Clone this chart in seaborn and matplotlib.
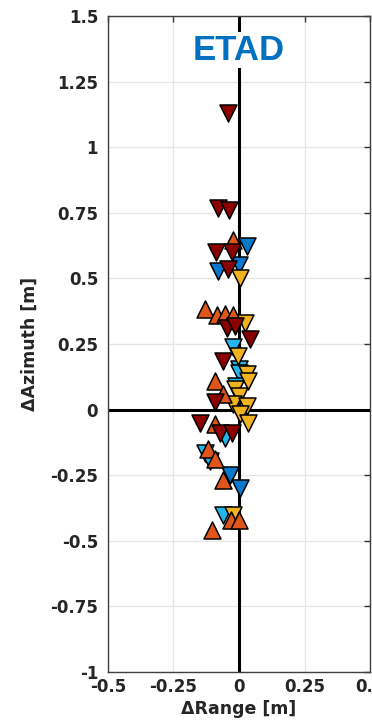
import numpy as np
import pandas as pd
import seaborn as sns
import matplotlib.pyplot as plt

# offsets, grouped by colour
dred_rng = [-0.042, -0.08, -0.04, -0.088, -0.027, -0.042, -0.046, -0.015, 0.042, -0.061, -0.092, -0.15, -0.073, -0.027]
dred_az = [1.13, 0.77, 0.76, 0.60, 0.60, 0.535, 0.31, 0.32, 0.27, 0.187, 0.027, -0.05, -0.088, -0.088]

orng_rng = [-0.023, -0.13, -0.084, -0.053, -0.023, -0.092, -0.06, -0.092, -0.118, -0.092, -0.061, -0.03, 0.0, -0.103]
orng_az = [0.645, 0.385, 0.36, 0.365, 0.36, 0.11, 0.06, -0.055, -0.15, -0.187, -0.27, -0.42, -0.42, -0.46]

blue_rng = [0.03, -0.08, 0.0, -0.034, 0.004]
blue_az = [0.625, 0.53, 0.55, -0.25, -0.30]

cyan_rng = [-0.023, 0.0, 0.0, -0.01, -0.053, -0.13, -0.11, -0.061]
cyan_az = [0.237, 0.156, 0.14, 0.09, -0.11, -0.165, -0.195, -0.40]

yell_rng = [0.004, 0.023, -0.004, 0.03, 0.034, -0.015, 0.0, -0.023, 0.03, 0.004, 0.034, -0.023]
yell_az = [0.50, 0.33, 0.206, 0.137, 0.11, 0.08, 0.053, 0.023, 0.015, -0.015, -0.05, -0.40]

groups = [
    (cyan_rng, cyan_az, '#22B6EC', 'v'),
    (blue_rng, blue_az, '#0A78CC', 'v'),
    (yell_rng, yell_az, '#F0B21E', 'v'),
    (orng_rng, orng_az, '#E0561A', '^'),
    (dred_rng, dred_az, '#8B0000', 'v'),
]

sns.set_style('white')
plt.rcParams['font.family'] = ['DejaVu Sans']

fig = plt.figure(figsize=(3.72, 7.26), dpi=100)
ax = fig.add_axes([0.290, 0.0744, 0.705, 0.9036])

ax.axvline(0, color='black', lw=2.2, zorder=1)
ax.axhline(0, color='black', lw=2.2, zorder=1)

for rng, az, col, mk in groups:
    df = pd.DataFrame({'rng': rng, 'az': az})
    sns.scatterplot(data=df, x='rng', y='az', color=col, marker=mk, s=150,
                    edgecolor='black', linewidth=1.1, ax=ax, zorder=3, legend=False)

ax.set_xlim(-0.5, 0.5)
ax.set_ylim(-1, 1.5)
ax.set_xticks([-0.5, -0.25, 0, 0.25, 0.5])
ax.set_xticklabels(['-0.5', '-0.25', '0', '0.25', '0.5'])
ax.set_yticks([-1, -0.75, -0.5, -0.25, 0, 0.25, 0.5, 0.75, 1, 1.25, 1.5])
ax.set_yticklabels(['-1', '-0.75', '-0.5', '-0.25', '0', '0.25', '0.5', '0.75', '1', '1.25', '1.5'])
ax.grid(True, color='#e6e6e6', lw=1)
ax.set_axisbelow(True)
ax.tick_params(direction='in', length=4, width=1, color='#333333', top=True, right=True,
               labelsize=12)
ax.tick_params(axis='y', pad=7)
ax.tick_params(axis='x', pad=4)
for lab in ax.get_xticklabels() + ax.get_yticklabels():
    lab.set_fontweight('bold')
    lab.set_color('#262626')
for sp in ax.spines.values():
    sp.set_color('#404040')
    sp.set_linewidth(1)

ax.set_xlabel('\u0394Range [m]', fontsize=12.5, fontweight='bold', color='#262626', labelpad=3)
ax.set_ylabel('\u0394Azimuth [m]', fontsize=12.5, fontweight='bold', color='#262626', labelpad=8)

ax.text(0, 1.37, 'ETAD', ha='center', va='center', fontsize=25, fontweight='bold',
        color='#0070C0', family='Liberation Sans',
        bbox=dict(facecolor='white', edgecolor='none', pad=1), zorder=4)

fig.savefig('out.png', dpi=100)
